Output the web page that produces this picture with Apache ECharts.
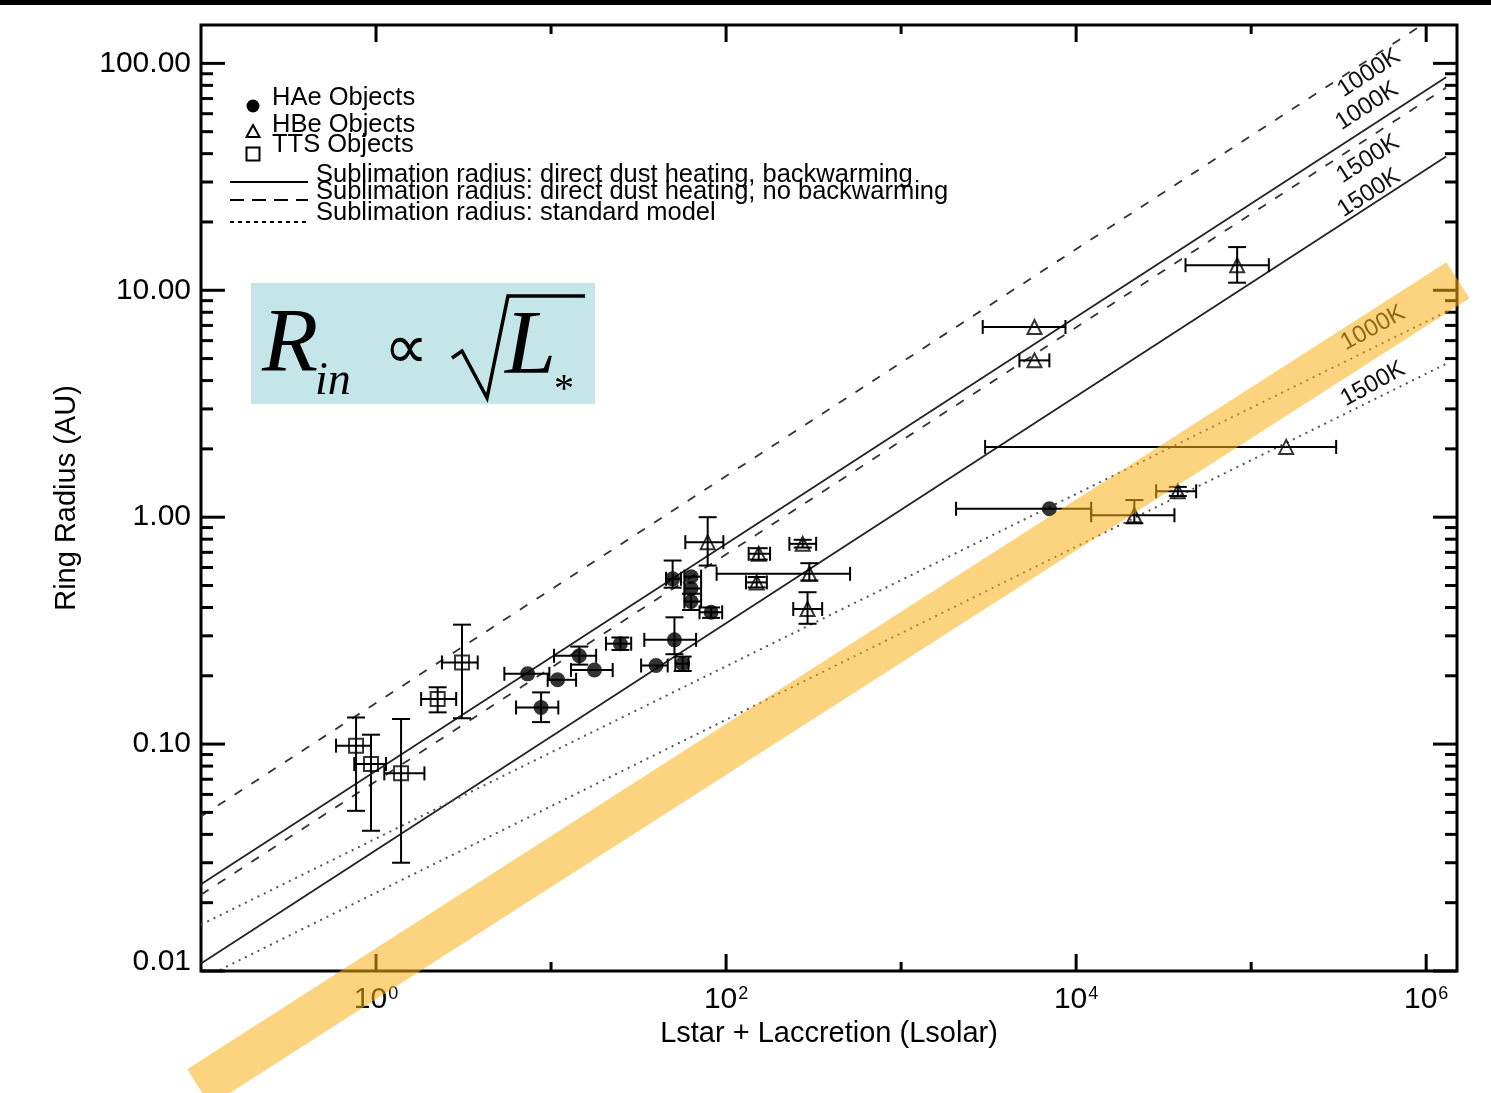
<!DOCTYPE html>
<html>
<head>
<meta charset="utf-8">
<script src="https://cdn.jsdelivr.net/npm/echarts@6/dist/echarts.min.js"></script>
<style>
  html, body { margin: 0; padding: 0; background: #fff; }
  #chart { width: 1491px; height: 1093px; }
</style>
</head>
<body>
<div id="chart"></div>
<script>
// Inner ring radius against total luminosity for young stellar disks

// axis ranges
const lumRange = [0.1, 1.5e6];
const radiusRange = [0.01, 147.6];

// tick values
const xMajorTicks = [1, 100, 1e4, 1e6];
const xMinorTicks = [10, 1e3, 1e5];
const yMajorTicks = [0.01, 0.1, 1, 10, 100];
const yTickLabels = ['0.01', '0.10', '1.00', '10.00', '100.00'];

// each row: [L, R, L low, L high, R low, R high] (null = no bar)
const haeObjects = [
  [7.35, 0.204, 5.41, 9.78, null, null],
  [10.9, 0.192, 9.57, 13.9, null, null],
  [8.77, 0.145, 6.31, 11.0, 0.125, 0.169],
  [14.5, 0.245, 10.4, 18.1, 0.224, 0.269],
  [17.7, 0.212, 13.0, 22.5, null, null],
  [24.9, 0.277, 20.6, 28.7, 0.26, 0.295],
  [50.7, 0.288, 34.1, 67.4, 0.249, 0.362],
  [39.8, 0.222, 32.7, 46.4, null, null],
  [56.5, 0.226, 51.3, 61.0, 0.21, 0.243],
  [82.1, 0.381, 70.5, 95.0, 0.36, 0.40],
  [49.5, 0.535, 45.4, 55.3, 0.489, 0.644],
  [63.1, 0.547, 57.8, 72.0, null, null],
  [63.1, 0.485, 57.8, 72.0, null, null],
  [63.1, 0.425, 57.8, 72.0, 0.39, 0.46],
  [7040, 1.089, 2061, 12190, null, null]
];
const hbeObjects = [
  [78.5, 0.776, 58.5, 96.5, 0.612, 1.00],
  [153.6, 0.690, 134.6, 178.4, 0.65, 0.73],
  [149.6, 0.516, 130, 171, 0.49, 0.545],
  [274, 0.763, 230, 327, 0.735, 0.795],
  [299, 0.563, 88.3, 511, 0.526, 0.627],
  [292, 0.394, 242, 354, 0.339, 0.467],
  [5780, 6.89, 2926, 8690, null, null],
  [5780, 4.91, 4742, 7030, null, null],
  [83180, 12.9, 42170, 126200, 10.8, 15.5],
  [158500, 2.04, 3020, 306000, null, null],
  [38100, 1.30, 28640, 48500, 1.24, 1.36],
  [21500, 1.02, 12190, 36450, 0.94, 1.19]
];
const ttsObjects = [
  [0.769, 0.0984, 0.591, 0.936, 0.0508, 0.131],
  [0.936, 0.0817, 0.751, 1.14, 0.0415, 0.110],
  [1.39, 0.0743, 1.115, 1.89, 0.030, 0.129],
  [2.25, 0.158, 1.81, 2.87, 0.138, 0.178],
  [3.10, 0.229, 2.38, 3.81, 0.130, 0.336]
];

// sublimation radius lines: radius at the two luminosity end points
const lineLum = [0.1, 1.3e6];
const noBackwarm1000 = [0.048, 173];
const backwarm1000 = [0.0241, 86.9];
const noBackwarm1500 = [0.0217, 78.2];
const backwarm1500 = [0.0108, 38.9];
const standard1000 = [0.0160, 8.03];
const standard1500 = [0.0092, 4.74];

// highlighted R ∝ sqrt(L) trend
const trendLum = [0.0971, 1.52e6];
const trendRadius = [0.00307, 11.07];

const FONT = '"Liberation Sans", Arial, Helvetica, sans-serif';
const SERIF = '"Liberation Serif", "Times New Roman", serif';

function pairs(xs, ys) { return xs.map((x, i) => [x, ys[i]]); }
function isPow(v) {
  const e = Math.log10(v);
  return Math.abs(e - Math.round(e)) < 1e-6 ? Math.round(e) : null;
}

// minor ticks at 2..9 of each decade
const yMinorTicks = [];
yMajorTicks.slice(0, -1).forEach(d => { for (let m = 2; m <= 9; m++) yMinorTicks.push(d * m); });

const xTickData = xMajorTicks.map(v => [v, 1, 1]).concat(xMinorTicks.map(v => [v, 1, 0]));
const yTickData = yMajorTicks.map(v => [1, v, 1]).concat(yMinorTicks.map(v => [1, v, 0]));

function seg(x1, y1, x2, y2, w) {
  return { type: 'line', shape: { x1, y1, x2, y2 }, style: { stroke: '#000', lineWidth: w } };
}

function xTickItem(params, api) {
  const cs = params.coordSys;
  const x = api.coord([api.value(0), 1])[0];
  const len = api.value(2) ? 17 : 9;
  const b = cs.y + cs.height, t = cs.y;
  return { type: 'group', children: [seg(x, b, x, b - len, 3), seg(x, t, x, t + len, 3)] };
}
function yTickItem(params, api) {
  const cs = params.coordSys;
  const y = api.coord([1, api.value(1)])[1];
  const len = api.value(2) ? 24 : 12;
  const l = cs.x, r = cs.x + cs.width;
  return { type: 'group', children: [seg(l, y, l + len, y, 3), seg(r, y, r - len, y, 3)] };
}

function errorBarItem(params, api) {
  const L = api.value(0), R = api.value(1);
  const c = api.coord([L, R]);
  const kids = [];
  const lLo = api.value(2), lHi = api.value(3), rLo = api.value(4), rHi = api.value(5);
  if (!isNaN(lLo) && !isNaN(lHi)) {
    const a = api.coord([lLo, R])[0], b = api.coord([lHi, R])[0];
    kids.push(seg(a, c[1], b, c[1], 2), seg(a, c[1] - 7, a, c[1] + 7, 2), seg(b, c[1] - 7, b, c[1] + 7, 2));
  }
  if (!isNaN(rLo) && !isNaN(rHi)) {
    const a = api.coord([L, rLo])[1], b = api.coord([L, rHi])[1];
    kids.push(seg(c[0], a, c[0], b, 2), seg(c[0] - 9, a, c[0] + 9, a, 2), seg(c[0] - 9, b, c[0] + 9, b, 2));
  }
  return { type: 'group', children: kids };
}

function errSeries(data) {
  return { type: 'custom', renderItem: errorBarItem, data, z: 3, silent: true };
}

function refLine(values, dash, color, width) {
  return {
    type: 'line', data: pairs(lineLum, values), symbol: 'none', silent: true, z: 2,
    lineStyle: { color, width, type: dash }
  };
}

const chart = echarts.init(document.getElementById('chart'), null, { renderer: 'canvas' });

const deg = Math.PI / 180;
function lineLabel(text, x, y, rot) {
  return {
    type: 'text', x, y, rotation: rot * deg, z: 5,
    style: { text, fill: '#111', font: '24px ' + FONT, align: 'center', verticalAlign: 'middle' }
  };
}
function legendText(text, x, y) {
  return {
    type: 'text', x, y, z: 5,
    style: { text, fill: '#000', font: '25.5px ' + FONT, align: 'left', verticalAlign: 'middle' }
  };
}
function legendLine(y, dash, color) {
  return {
    type: 'line', z: 5, shape: { x1: 230, y1: y, x2: 308, y2: y },
    style: { stroke: color, lineWidth: 2, lineDash: dash }
  };
}

const option = {
  backgroundColor: '#fff',
  animation: false,
  grid: { left: 201, right: 34, top: 25, bottom: 122, show: true, borderColor: '#000', borderWidth: 3, backgroundColor: '#fff' },
  xAxis: {
    type: 'log', logBase: 10, min: lumRange[0], max: lumRange[1],
    axisLine: { show: false }, axisTick: { show: false }, splitLine: { show: false }, minorTick: { show: false },
    name: 'Lstar + Laccretion (Lsolar)', nameLocation: 'middle', nameGap: 46,
    nameTextStyle: { fontFamily: FONT, fontSize: 29, color: '#000' },
    axisLabel: {
      interval: 0, margin: 14, color: '#000', fontFamily: FONT, fontSize: 30,
      formatter: v => {
        const e = isPow(v);
        if (e === null || e < 0 || e % 2 !== 0) return '';
        return '10{s|' + e + '}';
      },
      rich: { s: { fontFamily: FONT, fontSize: 18, color: '#000', verticalAlign: 'top', padding: [0, 0, 0, 1] } }
    }
  },
  yAxis: {
    type: 'log', logBase: 10, min: radiusRange[0], max: radiusRange[1],
    axisLine: { show: false }, axisTick: { show: false }, splitLine: { show: false }, minorTick: { show: false },
    name: 'Ring Radius (AU)', nameLocation: 'middle', nameGap: 120, nameRotate: 90,
    nameTextStyle: { fontFamily: FONT, fontSize: 29, color: '#000' },
    axisLabel: {
      interval: 0, margin: 10, color: '#000', fontFamily: FONT, fontSize: 30, lineHeight: 18,
      verticalAlignMinLabel: 'bottom',
      formatter: v => {
        const e = isPow(v);
        if (e === null) return '';
        const i = yMajorTicks.findIndex(t => Math.abs(Math.log10(t) - e) < 1e-6);
        return i >= 0 ? yTickLabels[i] : '';
      }
    }
  },
  graphic: [
    { type: 'rect', shape: { x: 0, y: 0, width: 1491, height: 5 }, style: { fill: '#000' }, z: 50 },
    // legend
    { type: 'circle', shape: { cx: 253, cy: 106, r: 6.5 }, style: { fill: '#000' }, z: 5 },
    { type: 'polygon', shape: { points: [[253, 125], [259.5, 137], [246.5, 137]] }, style: { fill: 'none', stroke: '#000', lineWidth: 2 }, z: 5 },
    { type: 'rect', shape: { x: 246.5, y: 147.5, width: 13, height: 13 }, style: { fill: 'none', stroke: '#000', lineWidth: 2 }, z: 5 },
    legendText('HAe Objects', 272, 98),
    legendText('HBe Objects', 272, 125),
    legendText('TTS Objects', 272, 145),
    legendLine(182, null, '#000'),
    legendLine(200, [14, 8], '#000'),
    legendLine(222, [4, 4], '#000'),
    legendText('Sublimation radius: direct dust heating, backwarming', 316, 175),
    legendText('Sublimation radius: direct dust heating, no backwarming', 316, 192),
    legendText('Sublimation radius: standard model', 316, 213),
    // labels along the sublimation lines
    lineLabel('1000K', 1369, 73, 33),
    lineLabel('1000K', 1367, 106, 33),
    lineLabel('1500K', 1368, 159, 33),
    lineLabel('1500K', 1369, 193, 33),
    lineLabel('1000K', 1373, 328, 29),
    lineLabel('1500K', 1373, 384, 29),
    // R_in ∝ sqrt(L*) box
    { type: 'rect', shape: { x: 251, y: 283, width: 344, height: 121 }, style: { fill: '#C5E6E8' }, z: 5 },
    { type: 'text', x: 262, y: 347, z: 6, style: { text: 'R', font: 'italic 92px ' + SERIF, fill: '#000', align: 'left', verticalAlign: 'middle' } },
    { type: 'text', x: 315, y: 382, z: 6, style: { text: 'in', font: 'italic 46px ' + SERIF, fill: '#000', align: 'left', verticalAlign: 'middle' } },
    { type: 'text', x: 384, y: 352, z: 6, style: { text: '∝', font: '62px ' + SERIF, fill: '#000', align: 'left', verticalAlign: 'middle' } },
    { type: 'polyline', z: 6, shape: { points: [[452, 358], [462, 351], [487, 398], [508, 296], [585, 296]] }, style: { stroke: '#000', lineWidth: 3.5, fill: 'none' } },
    { type: 'text', x: 505, y: 349, z: 6, style: { text: 'L', font: 'italic 92px ' + SERIF, fill: '#000', align: 'left', verticalAlign: 'middle' } },
    { type: 'text', x: 554, y: 390, z: 6, style: { text: '*', font: '40px ' + SERIF, fill: '#000', align: 'left', verticalAlign: 'middle' } }
  ],
  series: [
    { type: 'custom', renderItem: xTickItem, data: xTickData, z: 4, silent: true },
    { type: 'custom', renderItem: yTickItem, data: yTickData, z: 4, silent: true },
    refLine(noBackwarm1000, [9, 11], '#333', 1.8),
    refLine(backwarm1000, 'solid', '#222', 1.8),
    refLine(noBackwarm1500, [9, 11], '#333', 1.8),
    refLine(backwarm1500, 'solid', '#222', 1.8),
    refLine(standard1000, [2, 5], '#555', 2),
    refLine(standard1500, [2, 5], '#555', 2),
    errSeries(ttsObjects),
    errSeries(haeObjects),
    errSeries(hbeObjects),
    {
      type: 'scatter', data: ttsObjects.map(r => [r[0], r[1]]), symbol: 'rect', symbolSize: 14, z: 6, silent: true,
      itemStyle: { color: 'rgba(0,0,0,0)', borderColor: '#000', borderWidth: 2 }
    },
    {
      type: 'scatter', data: hbeObjects.map(r => [r[0], r[1]]), symbol: 'triangle', symbolSize: 14, z: 6, silent: true,
      itemStyle: { color: 'rgba(0,0,0,0)', borderColor: '#000', borderWidth: 2 }
    },
    {
      type: 'scatter', data: haeObjects.map(r => [r[0], r[1]]), symbol: 'circle', symbolSize: 15, z: 6, silent: true,
      itemStyle: { color: '#000' }
    },
    {
      type: 'line', data: pairs(trendLum, trendRadius), symbol: 'none', clip: false, z: 20, silent: true,
      lineStyle: { color: 'rgba(249,176,22,0.55)', width: 43, cap: 'butt' }
    }
  ]
};

chart.setOption(option);
</script>
</body>
</html>
